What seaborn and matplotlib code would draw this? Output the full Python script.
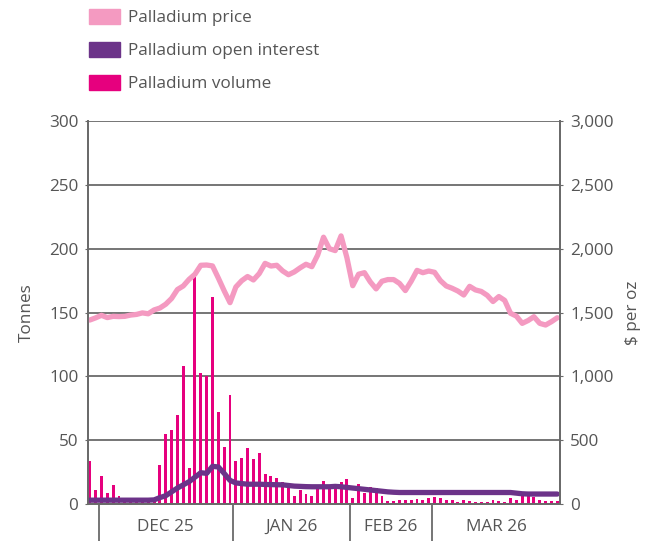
import numpy as np
import pandas as pd
import matplotlib
matplotlib.use("Agg")
import matplotlib.pyplot as plt
import seaborn as sns
from matplotlib.patches import Patch

# daily palladium data
volume = [34, 11, 22, 9, 15, 6, 4, 3, 3, 3, 3, 3,
          30.5, 55, 58, 70, 108, 28, 178, 103, 100, 162, 72, 45, 85,
          34, 36, 44, 35, 40, 23.5, 22, 20, 17, 13.5, 6, 11, 8, 6, 11.5,
          18, 13.5, 13.5, 17, 19.5,
          5, 15.5, 9, 13, 12.5, 6, 2.5, 2.5, 3, 3, 3, 4, 3, 5,
          5.5, 5, 3, 3, 1.5, 3, 2, 1.5, 1.5, 1.5, 3, 2.5, 1.5, 5, 3, 6,
          6, 5.5, 3, 2.5, 2.5, 2.5]
open_interest = [3, 3, 3, 3, 3, 3, 3, 3, 3, 3, 3, 3.2,
                 5, 6.5, 9.5, 12.5, 15, 17.5, 21, 24.5, 24, 29.5, 29, 24, 18.5,
                 16.5, 16, 15.5, 15.5, 15.5, 15.3, 15.2, 15.1, 15, 14.5, 14, 13.8,
                 13.6, 13.5, 13.5, 13.5, 13.5, 13.8, 13.5, 13,
                 12.5, 12, 11.5, 11, 10.5, 10, 9.5, 9.2, 9, 9, 9, 9, 9, 9,
                 9, 9, 9, 9, 9, 9, 9, 9, 9, 9, 9, 9, 9, 9, 8.5, 8,
                 7.8, 7.8, 7.8, 7.8, 7.8, 7.8]
price = [1441, 1458, 1478, 1460, 1470, 1468, 1470, 1480, 1485, 1497, 1490, 1520,
         1535, 1565, 1610, 1680, 1708, 1760, 1800, 1870, 1872, 1865, 1770, 1670, 1577,
         1700, 1749, 1782, 1755, 1805, 1885, 1864, 1870, 1826, 1796, 1818, 1850,
         1878, 1859, 1950, 2090, 2000, 1985, 2100, 1930,
         1710, 1800, 1812, 1740, 1685, 1745, 1758, 1758, 1728, 1672, 1745, 1830,
         1812, 1825,
         1815, 1750, 1708, 1690, 1668, 1637, 1705, 1677, 1665, 1635, 1586, 1625,
         1595, 1494, 1472, 1415, 1437, 1467, 1415, 1402, 1428, 1459]
months = ["DEC 25", "JAN 26", "FEB 26", "MAR 26"]
month_starts = [1.5, 24.5, 44.5, 58.5]

df = pd.DataFrame({"day": np.arange(len(volume)), "volume": volume,
                   "oi": open_interest, "price": price})

c_price = "#f49ac1"
c_oi = "#6c3389"
c_vol = "#e6007e"
grey = "#555555"
line_grey = "#6a6a6a"

sns.set_style("white")
plt.rcParams["font.family"] = ["Open Sans", "DejaVu Sans"]

fig = plt.figure(figsize=(6.5, 5.41), dpi=100)
ax = fig.add_axes([0.1354, 0.0684, 0.7269, 0.7079])

sns.barplot(data=df, x="day", y="volume", color=c_vol, width=0.5,
            saturation=1, linewidth=0, edgecolor="none", ax=ax, zorder=2)
sns.lineplot(data=df, x="day", y="oi", color=c_oi, lw=3.8, ax=ax, zorder=3,
             solid_joinstyle="round", solid_capstyle="round")

ax.set_xlim(-0.3, 80.55)
ax.set_ylim(0, 300)
ax.set_yticks(np.arange(0, 301, 50))
ax.yaxis.grid(True, color=line_grey, lw=1.3)
ax.set_axisbelow(True)
ax.set_ylabel("Tonnes", fontsize=12.3, color=grey, labelpad=10)
ax.set_xlabel("")

# month separators as long ticks, labels in between
ax.set_xticks(month_starts)
ax.set_xticklabels([])
ax.tick_params(axis="x", which="major", bottom=True, length=40, width=1.3,
               color=line_grey)
ends = month_starts[1:] + [80.55]
centers = [(a + b) / 2 for a, b in zip(month_starts, ends)]
ax.set_xticks(centers, minor=True)
ax.set_xticklabels(months, minor=True)
ax.tick_params(axis="x", which="minor", bottom=True, length=0, pad=11,
               labelsize=12.3, labelcolor=grey)
ax.tick_params(axis="y", left=True, length=2, color=line_grey, labelsize=12.3,
               labelcolor=grey, pad=5)

ax2 = ax.twinx()
sns.lineplot(data=df, x="day", y="price", color=c_price, lw=3.8, ax=ax2,
             solid_joinstyle="round", solid_capstyle="round")
ax2.set_ylim(0, 3000)
ax2.set_yticks(np.arange(0, 3001, 500))
ax2.set_yticklabels([f"{v:,}" for v in range(0, 3001, 500)])
ax2.set_ylabel("$ per oz", fontsize=12.3, color=grey, labelpad=8)
ax2.tick_params(axis="y", right=True, length=2, color=line_grey,
                labelsize=12.3, labelcolor=grey, pad=5)

for a in (ax, ax2):
    a.spines["top"].set_visible(False)
    for s in ("left", "right", "bottom"):
        a.spines[s].set_color(line_grey)
        a.spines[s].set_linewidth(1.3)

handles = [Patch(color=c_price), Patch(color=c_oi), Patch(color=c_vol)]
labels = ["Palladium price", "Palladium open interest", "Palladium volume"]
fig.legend(handles, labels, loc="upper left", bbox_to_anchor=(0.113, 1.012),
           frameon=False, fontsize=12.3, labelcolor=grey, handlelength=1.8,
           handleheight=1.0, labelspacing=0.9, handletextpad=0.5)

fig.savefig("out.png", dpi=100)
